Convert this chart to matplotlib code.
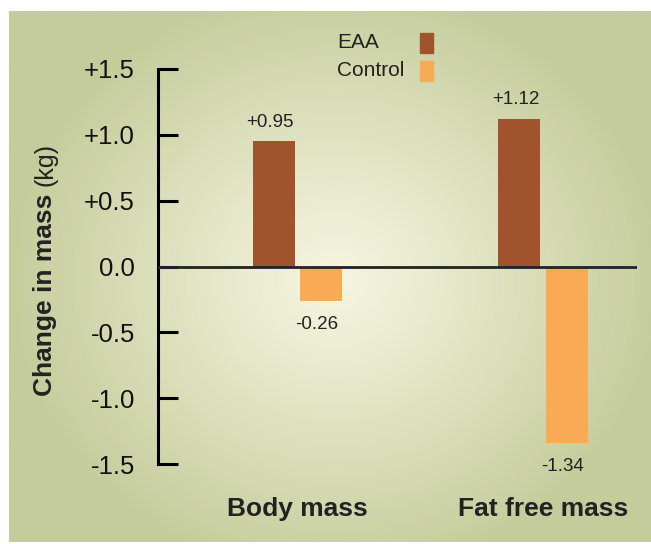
import numpy as np
import matplotlib
matplotlib.use("Agg")
import matplotlib.pyplot as plt
from matplotlib.patches import Rectangle
from matplotlib.colors import to_rgb

# data
categories = ["Body mass", "Fat free mass"]
eaa = [0.95, 1.12]
control = [-0.26, -1.34]
eaa_labels = ["+0.95", "+1.12"]
control_labels = ["-0.26", "-1.34"]
yticks = [1.5, 1.0, 0.5, 0.0, -0.5, -1.0, -1.5]
ytick_labels = ["+1.5", "+1.0", "+0.5", "0.0", "-0.5", "-1.0", "-1.5"]

W, H = 651, 544
plt.rcParams['font.family'] = ['Liberation Sans', 'DejaVu Sans']

fig = plt.figure(figsize=(W / 100, H / 100), dpi=100)
fig.patch.set_facecolor("white")

def px(x0, y0, x1, y1):
    # pixel box -> figure fraction rect
    return [x0 / W, 1 - y1 / H, (x1 - x0) / W, (y1 - y0) / H]

# radial gradient background panel
bg = fig.add_axes(px(9, 11, 651, 542))
bg.set_axis_off()
gx, gy = np.meshgrid(np.linspace(9, 651, 320), np.linspace(11, 542, 270))
d = np.sqrt(((gx - 335) / 330) ** 2 + ((gy - 280) / 300) ** 2)
t = np.clip(d, 0, 1) ** 1.1
c_in = np.array(to_rgb("#f6f5e0"))
c_out = np.array(to_rgb("#c4cc9b"))
img = c_in[None, None, :] * (1 - t[..., None]) + c_out[None, None, :] * t[..., None]
bg.imshow(img, aspect="auto", extent=[0, 1, 0, 1], interpolation="bilinear")

# main axes: x=158..637 px, y=69 (+1.5) .. 464 (-1.5)
ax = fig.add_axes(px(158, 69, 637, 464))
ax.patch.set_alpha(0)
x = np.arange(len(categories))
w = 0.171
off = 0.096
ax.bar(x - off, eaa, w, color="#a0532d", zorder=2)
ax.bar(x + off, control, w, color="#f9aa55", zorder=2)
ax.axhline(0, color="#222222", lw=2.0, zorder=3)

for i in range(len(categories)):
    ax.text(x[i] - off - 0.016, eaa[i] + 0.145, eaa_labels[i], ha="center", va="center",
            fontsize=13.5, color="#222222")
    ax.text(x[i] + off - 0.016, control[i] - 0.18, control_labels[i], ha="center", va="center",
            fontsize=13.5, color="#222222")
    ax.text(x[i], -1.898, categories[i], ha="center", va="baseline",
            fontsize=19, fontweight="bold", color="#222222")

ax.set_xlim(-0.568, 1.383)
ax.set_ylim(-1.5, 1.5)
ax.set_xticks([])
ax.set_yticks(yticks)
ax.set_yticklabels(ytick_labels, fontsize=18.5, color="#111111")
ax.tick_params(axis="y", direction="in", length=14.5, width=2.2, pad=16.5, color="black")
for s in ["top", "right", "bottom"]:
    ax.spines[s].set_visible(False)
ax.spines["left"].set_linewidth(2.2)

# y label: bold part + normal part
fig.text(45 / W, 1 - 294.5 / H, "Change in mass", rotation=90, ha="center", va="center",
         fontsize=19, fontweight="bold", color="#222222")
fig.text(45 / W, 1 - 165 / H, "(kg)", rotation=90, ha="center", va="center",
         fontsize=18, color="#222222")

# legend
fig.text(337 / W, 1 - 43 / H, "EAA", ha="left", va="center", fontsize=15, color="#222222")
fig.text(337 / W, 1 - 71 / H, "Control", ha="left", va="center", fontsize=15, color="#222222")
fig.patches.append(Rectangle((420 / W, 1 - 53 / H), 13 / W, 20 / H, transform=fig.transFigure,
                             color="#a0532d"))
fig.patches.append(Rectangle((420 / W, 1 - 81 / H), 13 / W, 20 / H, transform=fig.transFigure,
                             color="#f9aa55"))

fig.savefig("out.png", dpi=100)
